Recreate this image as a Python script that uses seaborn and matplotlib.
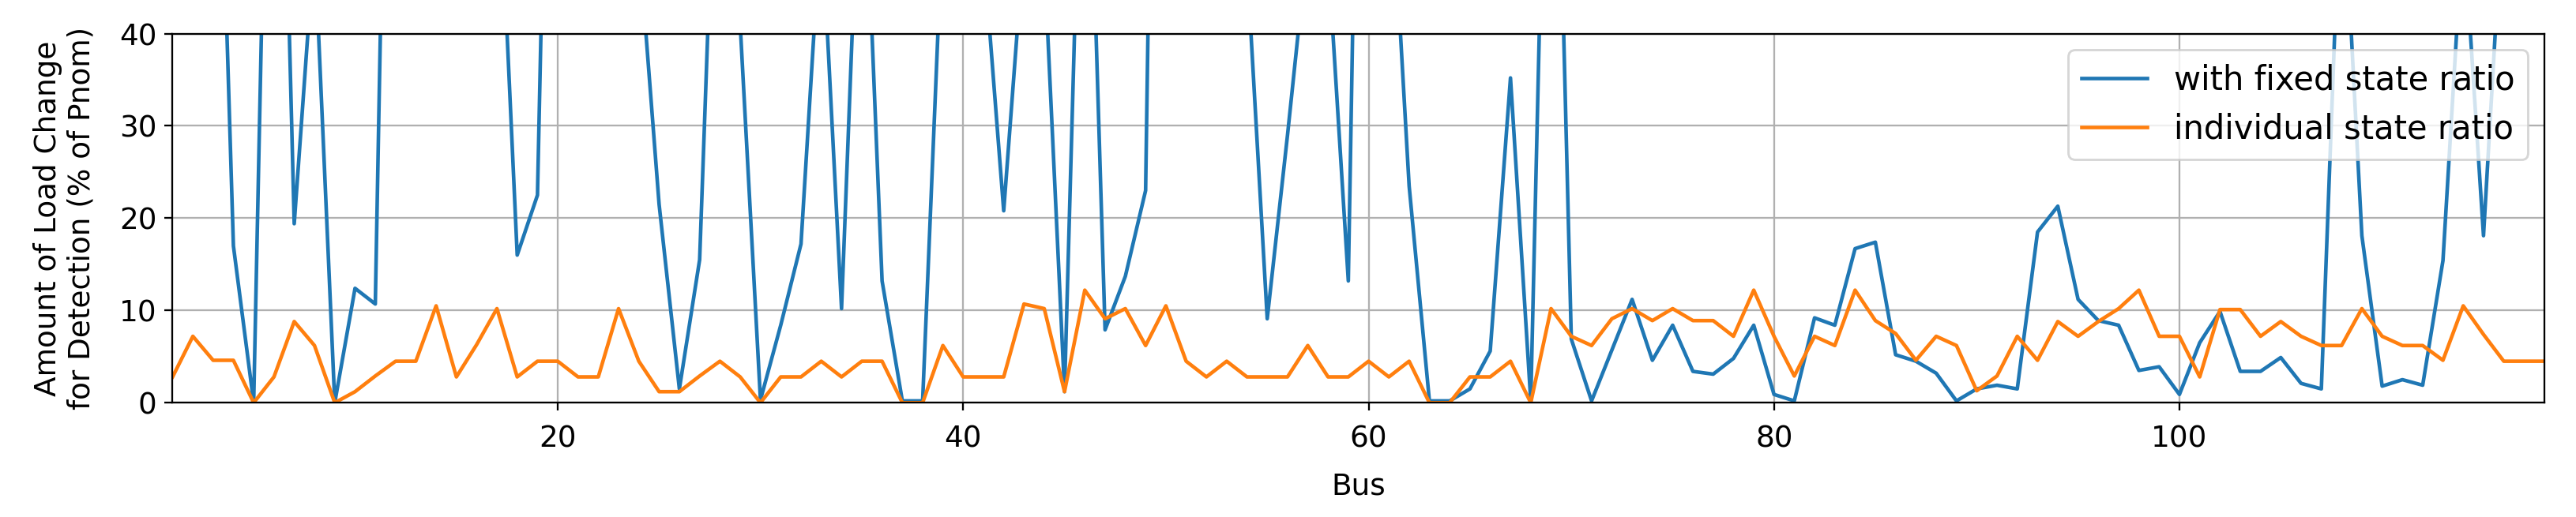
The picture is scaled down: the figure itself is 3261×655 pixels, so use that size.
import numpy as np
import pandas as pd
import matplotlib
matplotlib.use("Agg")
import matplotlib.pyplot as plt
import seaborn as sns

# bus numbers of the 118-bus system
buses = list(range(1, 119))

# load change needed for detection (% of Pnom), values > 40 are clipped in the plot
fixed_ratio = [
    90, 95, 89, 17, 0, 105, 19.4, 50, 0, 12.4,
    10.7, 128, 95, 110, 120, 90, 64, 16, 22.5, 125,
    110, 100, 95, 50, 21.5, 1.5, 15.5, 77, 41, 0.3,
    8.4, 17.2, 53, 10.2, 67, 13.2, 0.2, 0.2, 53, 90,
    49, 20.8, 50, 48, 1.2, 80, 7.9, 13.7, 23, 170,
    120, 100, 90, 47.6, 9.1, 29, 50, 48.5, 13.2, 140,
    62, 23.5, 0.2, 0.2, 1.5, 5.6, 35.2, 0.2, 95, 6.9,
    0.2, 5.7, 11.2, 4.6, 8.4, 3.4, 3.1, 4.8, 8.4, 0.9,
    0.2, 9.2, 8.4, 16.7, 17.4, 5.2, 4.5, 3.2, 0.2, 1.5,
    1.9, 1.5, 18.5, 21.3, 11.2, 8.9, 8.4, 3.5, 3.9, 0.9,
    6.5, 9.9, 3.4, 3.4, 4.9, 2.1, 1.5, 60, 18.1, 1.8,
    2.5, 1.9, 15.4, 52, 18.1, 56, 80, 90,
]

individual_ratio = [
    2.8, 7.2, 4.6, 4.6, 0, 2.8, 8.8, 6.2, 0, 1.2,
    2.9, 4.5, 4.5, 10.5, 2.8, 6.3, 10.2, 2.8, 4.5, 4.5,
    2.8, 2.8, 10.2, 4.5, 1.2, 1.2, 2.9, 4.5, 2.8, 0,
    2.8, 2.8, 4.5, 2.8, 4.5, 4.5, 0, 0, 6.2, 2.8,
    2.8, 2.8, 10.7, 10.2, 1.2, 12.2, 9.1, 10.2, 6.2, 10.5,
    4.5, 2.8, 4.5, 2.8, 2.8, 2.8, 6.2, 2.8, 2.8, 4.5,
    2.8, 4.5, 0, 0, 2.8, 2.8, 4.5, 0, 10.2, 7.2,
    6.2, 9.1, 10.2, 8.9, 10.2, 8.9, 8.9, 7.2, 12.2, 7.2,
    2.9, 7.2, 6.2, 12.2, 8.9, 7.5, 4.6, 7.2, 6.2, 1.3,
    2.9, 7.2, 4.6, 8.8, 7.2, 8.8, 10.2, 12.2, 7.2, 7.2,
    2.8, 10.1, 10.1, 7.2, 8.8, 7.2, 6.2, 6.2, 10.2, 7.2,
    6.2, 6.2, 4.6, 10.5, 7.4, 4.5, 4.5, 4.5,
]

df = pd.DataFrame({"Bus": buses, "fixed": fixed_ratio, "individual": individual_ratio})

plt.rcParams["font.family"] = ["DejaVu Sans"]
plt.rcParams["font.size"] = 13

fig, ax = plt.subplots(figsize=(3261 / 207, 655 / 207), dpi=207)
sns.lineplot(data=df, x="Bus", y="fixed", color="#1f77b4", linewidth=1.6,
             label="with fixed state ratio", ax=ax)
sns.lineplot(data=df, x="Bus", y="individual", color="#ff7f0e", linewidth=1.6,
             label="individual state ratio", ax=ax)

ax.set_xlim(1, 118)
ax.set_ylim(0, 40)
ax.set_yticks([0, 10, 20, 30, 40])
ax.set_xticks([20, 40, 60, 80, 100])
ax.tick_params(axis="x", pad=6)
ax.grid(True, color="#b0b0b0", linewidth=0.8)
ax.set_xlabel("Bus", labelpad=8)
ax.set_ylabel("Amount of Load Change\nfor Detection (% of Pnom)", labelpad=10)
ax.legend(loc="upper right", fontsize=14.5)

fig.subplots_adjust(left=0.067, right=0.9877, top=0.935, bottom=0.221)
fig.savefig("out.png", dpi=207)
